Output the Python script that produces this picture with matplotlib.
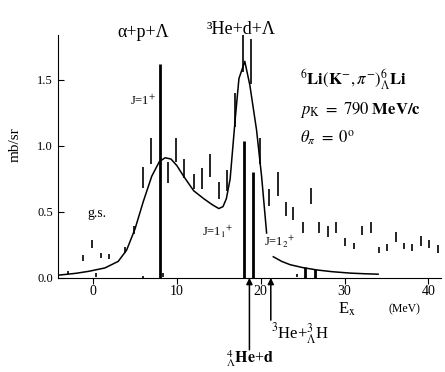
import matplotlib
matplotlib.use("Agg")
import matplotlib.pyplot as plt

plt.rcParams['font.family'] = ['Liberation Serif', 'DejaVu Serif']
plt.rcParams['mathtext.fontset'] = 'stix'

# measured spectrum: excitation energy (MeV), cross section (mb/sr), error
ex = [-3.0, -1.2, -0.1, 0.3, 0.9, 1.9, 3.8, 4.9, 5.9, 6.0, 6.9, 8.4, 8.9, 9.9,
      10.9, 12.0, 13.0, 14.0, 15.0, 16.0, 16.95, 17.9, 18.8, 19.9, 21.0, 22.0,
      23.0, 23.9, 24.3, 25.0, 26.0, 27.0, 28.0, 29.0, 30.0, 31.1, 32.1, 33.1,
      34.1, 35.1, 36.1, 37.1, 38.1, 39.1, 40.1, 41.1]
xs = [0.04, 0.15, 0.26, 0.025, 0.17, 0.16, 0.21, 0.36, 0.76, 0.01, 0.96, 0.025,
      0.80, 0.97, 0.83, 0.73, 0.75, 0.85, 0.66, 0.74, 1.27, 1.70, 1.64, 0.96,
      0.61, 0.71, 0.52, 0.49, 0.02, 0.38, 0.62, 0.38, 0.35, 0.38, 0.27, 0.24,
      0.36, 0.38, 0.21, 0.23, 0.31, 0.24, 0.23, 0.28, 0.26, 0.22]
err = [0.01, 0.02, 0.03, 0.015, 0.02, 0.02, 0.025, 0.03, 0.08, 0.008, 0.10, 0.015,
       0.08, 0.09, 0.07, 0.06, 0.08, 0.085, 0.065, 0.08, 0.13, 0.14, 0.17, 0.10,
       0.065, 0.09, 0.055, 0.05, 0.01, 0.04, 0.06, 0.04, 0.04, 0.04, 0.03, 0.025,
       0.035, 0.04, 0.025, 0.03, 0.035, 0.025, 0.03, 0.035, 0.03, 0.03]

# calculated strengths (sticks)
stick_x = [7.95, 18.0, 19.05, 25.3, 26.5]
stick_h = [1.62, 1.04, 0.80, 0.08, 0.07]

# calculated spectrum (smeared)
curve_x = [-4.2, -2.0, -0.5, 1.4, 3.0, 4.0, 5.0, 6.0, 7.0, 7.9, 8.6, 9.3, 10.0,
           10.8, 12.0, 13.2, 14.2, 15.0, 15.5, 15.9, 16.35, 16.95, 17.4, 18.1,
           18.7, 19.5, 20.1, 20.7]
curve_y = [0.02, 0.035, 0.05, 0.075, 0.125, 0.21, 0.37, 0.58, 0.77, 0.88, 0.91,
           0.90, 0.85, 0.77, 0.66, 0.60, 0.555, 0.525, 0.54, 0.60, 0.75, 1.2,
           1.51, 1.64, 1.46, 1.12, 0.77, 0.34]
tail_x = [21.5, 22.5, 23.5, 25.0, 26.7, 28.5, 30.7, 32.5, 34.0]
tail_y = [0.16, 0.125, 0.10, 0.078, 0.06, 0.047, 0.036, 0.031, 0.028]

# thresholds (MeV)
thr_x = [18.65, 21.2]

fig = plt.figure(figsize=(4.45, 3.72), dpi=100)
ax = fig.add_axes([0.130, 0.253, 0.861, 0.653])

ax.errorbar(ex, xs, yerr=err, fmt='none', ecolor='black', elinewidth=1.2, capsize=0)
ax.vlines(stick_x, 0, stick_h, colors='black', linewidth=2.0)
ax.plot(curve_x, curve_y, color='black', lw=1.1)
ax.plot(tail_x, tail_y, color='black', lw=1.1)

ax.set_xlim(-4.2, 41.5)
ax.set_ylim(0, 1.84)
ax.set_xticks([0, 10, 20, 30, 40])
ax.set_yticks([0.0, 0.5, 1.0, 1.5])
ax.set_yticklabels(['0.0', '0.5', '1.0', '1.5'])
ax.spines['top'].set_visible(False)
ax.spines['right'].set_visible(False)
ax.tick_params(axis='y', direction='in', length=4, labelsize=9)
ax.tick_params(axis='x', direction='out', length=4, labelsize=10, pad=1)

fig.text(0.034, 0.61, 'mb/sr', rotation=90, ha='center', va='center', fontsize=11)

ax.text(6.0, 1.86, 'α+p+Λ', ha='center', va='center', fontsize=13, clip_on=False)
ax.text(17.7, 1.88, '³He+d+Λ', ha='center', va='center', fontsize=13, clip_on=False)
ax.text(24.7, 1.5, r'$^{6}\mathbf{Li}(\mathbf{K}^{-},\pi^{-})^{6}_{\Lambda}\mathbf{Li}$',
        ha='left', va='center', fontsize=12)
ax.text(24.7, 1.27, r'$p_{\rm K}\ =\ 790\ \mathbf{MeV/c}$', ha='left', va='center', fontsize=12)
ax.text(24.7, 1.06, r'$\theta_{\pi}\ =\ 0^{\rm o}$', ha='left', va='center', fontsize=12)
ax.text(5.9, 1.34, r'J=1$^{+}$', ha='center', va='center', fontsize=9)
ax.text(0.4, 0.49, 'g.s.', ha='center', va='center', fontsize=10)
ax.text(14.8, 0.35, r'J=1$_{1}{}^{+}$', ha='center', va='center', fontsize=9)
ax.text(22.3, 0.27, r'J=1$_{2}{}^{+}$', ha='center', va='center', fontsize=9)
ax.text(30.3, -0.235, r'E$_{\rm x}$', ha='center', va='center', fontsize=12, clip_on=False)
ax.text(37.1, -0.24, '(MeV)', ha='center', va='center', fontsize=8.5, clip_on=False)

ax.annotate('', xy=(thr_x[0], 0), xytext=(thr_x[0], -0.545),
            arrowprops=dict(arrowstyle='-|>', color='black', lw=1.1,
                            mutation_scale=9, shrinkA=0, shrinkB=0),
            annotation_clip=False)
ax.annotate('', xy=(thr_x[1], 0), xytext=(thr_x[1], -0.32),
            arrowprops=dict(arrowstyle='-|>', color='black', lw=1.1,
                            mutation_scale=9, shrinkA=0, shrinkB=0),
            annotation_clip=False)
ax.text(18.7, -0.615, r'$^{4}_{\Lambda}\mathbf{He}$+$\mathbf{d}$', ha='center', va='center',
        fontsize=11.5, clip_on=False)
ax.text(24.7, -0.42, r'$^{3}$He+$^{3}_{\Lambda}$H', ha='center', va='center',
        fontsize=12, clip_on=False)

fig.savefig('out.png', dpi=100)
